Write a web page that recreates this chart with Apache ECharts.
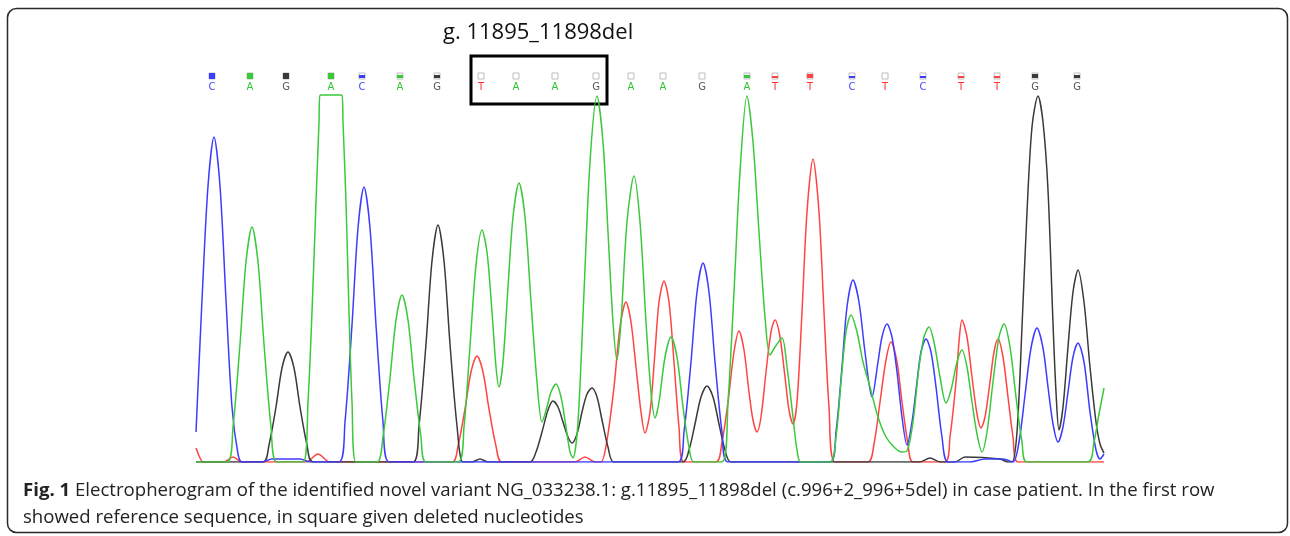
<!DOCTYPE html>
<html>
<head>
<meta charset="utf-8">
<title>Electropherogram</title>
<script src="https://cdn.jsdelivr.net/npm/echarts@6/dist/echarts.min.js"></script>
<style>
  html, body { margin: 0; padding: 0; background: #fff; }
  #chart { width: 1290px; height: 536px; }
</style>
</head>
<body>
<div id="chart"></div>
<script>
// reference sequence (first row) with scan position and quality bar fill
const bases = ["C", "A", "G", "A", "C", "A", "G", "T", "A", "A", "G", "A", "A", "G", "A", "T", "T", "C", "T", "C", "T", "T", "G", "G"];
const basePos = [212, 250, 286, 331, 362, 400, 437, 481, 516, 555, 596, 631, 663, 702, 747, 775, 810, 852, 885, 923, 961, 997, 1035, 1077];
const baseQual = [1, 1, 1, 1, 0.5, 0.5, 0.5, 0, 0, 0, 0, 0, 0, 0, 0.5, 0.4, 0.6, 0.4, 0, 0.3, 0.4, 0.4, 0.6, 0.5];
// deleted nucleotides, first and last index into bases
const deleted = [7, 10];
const variantLabel = "g. 11895_11898del";

// traces: [scan position, signal]
const traceC = [
  [196, 30], [202, 162], [208, 276], [214, 325], [220, 276], [226, 162], [232, 55], [238, 8], [242, 0],
  [262, 0], [272, 3], [300, 3], [310, 0],
  [339, 0], [345, 40], [352, 137], [358, 234], [364, 275], [370, 234], [376, 137], [383, 40], [389, 0],
  [678, 0], [684, 30], [691, 100], [697, 170], [703, 199], [709, 170], [715, 100], [722, 30], [728, 0],
  [830, 0], [836, 30], [842, 95], [847, 155], [853, 182], [859, 160], [865, 110], [872, 65], [878, 100],
  [882, 125], [887, 138], [892, 125], [897, 90], [902, 45], [907, 17], [912, 40], [917, 80], [921, 110],
  [926, 123], [931, 110], [936, 75], [942, 25], [948, 0],
  [970, 0], [985, 3], [1003, 3], [1013, 0],
  [1019, 20], [1025, 67], [1031, 114], [1037, 134], [1043, 114], [1048, 75], [1053, 38], [1058, 20],
  [1063, 35], [1068, 70], [1073, 105], [1078, 119], [1084, 100], [1090, 50], [1096, 12], [1100, 3], [1104, 8]
];
const traceA = [
  [196, 0], [227, 0], [233, 35], [240, 118], [246, 200], [252, 235], [258, 200], [264, 118], [271, 35], [277, 0],
  [303, 0], [308, 60], [312, 150], [316, 260], [319, 340], [320, 367], [331, 367], [342, 367], [343, 340],
  [346, 260], [349, 150], [352, 60], [356, 0],
  [377, 0], [383, 25], [390, 84], [396, 142], [402, 167], [408, 142], [414, 84], [421, 25], [426, 0],
  [458, 0], [464, 35], [470, 116], [476, 197], [482, 232], [487, 210], [492, 150], [496, 95], [499, 75],
  [503, 100], [508, 175], [513, 245], [519, 279], [525, 245], [531, 160], [537, 80], [542, 40], [547, 55],
  [551, 70], [556, 78], [561, 65], [566, 35], [570, 10], [573, 4], [578, 40], [584, 170], [590, 300],
  [597, 366], [603, 320], [608, 230], [613, 140], [617, 102], [621, 140], [627, 240], [634, 286], [640, 240],
  [646, 140], [651, 70], [655, 44], [659, 60], [665, 105], [671, 125], [677, 105], [683, 55], [689, 15], [694, 0],
  [722, 0], [728, 60], [734, 170], [740, 290], [747, 366], [753, 320], [759, 230], [765, 145], [770, 107],
  [775, 115], [782, 124], [787, 95], [793, 45], [797, 12], [801, 0],
  [830, 0], [836, 25], [841, 80], [846, 130], [851, 147], [857, 130], [863, 100], [870, 75], [878, 45],
  [886, 25], [895, 14], [902, 10], [907, 11], [913, 40], [919, 95], [924, 125], [929, 135], [934, 120],
  [940, 85], [946, 59], [951, 72], [957, 100], [962, 112], [967, 95], [972, 60], [977, 28], [982, 10],
  [987, 30], [993, 80], [999, 125], [1004, 138], [1010, 115], [1016, 65], [1022, 20], [1027, 0],
  [1088, 0], [1094, 20], [1099, 48], [1104, 74]
];
const traceG = [
  [196, 0], [263, 0], [269, 17], [276, 55], [282, 94], [288, 110], [294, 94], [300, 55], [307, 17], [313, 0],
  [413, 0], [419, 36], [426, 118], [432, 201], [438, 237], [444, 201], [450, 118], [457, 36], [463, 0],
  [472, 0], [480, 3], [488, 0],
  [530, 0], [536, 10], [542, 30], [548, 52], [553, 61], [558, 55], [563, 40], [568, 25], [572, 19],
  [577, 28], [582, 50], [587, 68], [592, 74], [597, 65], [602, 42], [608, 15], [614, 0],
  [683, 0], [689, 12], [695, 38], [701, 65], [707, 76], [713, 65], [719, 38], [725, 12], [731, 0],
  [920, 0], [930, 4], [940, 0], [955, 0], [965, 5], [1000, 3], [1008, 0],
  [1012, 0], [1017, 30], [1022, 135], [1027, 250], [1032, 335], [1038, 366], [1043, 340], [1048, 272],
  [1053, 139], [1056, 70], [1059, 32], [1063, 55], [1068, 115], [1073, 170], [1078, 192], [1084, 160],
  [1090, 95], [1096, 40], [1100, 18], [1104, 9]
];
const traceT = [
  [196, 14], [200, 4], [203, 0], [224, 0], [233, 5], [242, 0], [306, 0], [318, 8], [330, 0],
  [452, 0], [458, 16], [465, 53], [471, 90], [477, 106], [483, 90], [489, 53], [496, 16], [502, 0],
  [575, 0], [585, 5], [595, 0],
  [601, 0], [607, 22], [614, 75], [620, 135], [626, 160], [631, 140], [636, 95], [641, 50], [645, 29],
  [650, 50], [655, 110], [659, 160], [664, 181], [669, 160], [674, 100], [679, 35], [684, 0],
  [716, 0], [722, 20], [728, 60], [734, 110], [739, 131], [744, 112], [749, 70], [753, 42], [757, 30],
  [761, 45], [766, 90], [771, 130], [775, 142], [780, 125], [785, 85], [789, 52], [793, 38], [797, 60],
  [802, 150], [807, 250], [813, 303], [819, 250], [824, 150], [829, 55], [835, 0],
  [868, 0], [874, 18], [880, 60], [886, 102], [891, 120], [897, 100], [902, 60], [908, 18], [913, 0],
  [945, 0], [950, 25], [956, 80], [959, 120], [962, 142], [967, 125], [972, 85], [977, 48], [981, 34],
  [985, 45], [990, 80], [994, 110], [998, 123], [1003, 105], [1008, 65], [1013, 25], [1018, 0], [1104, 0]
];

const colors = { A: "#3cc83c", C: "#3c3cff", G: "#3a3a3a", T: "#ff4444" };
const letterColors = { A: "#33c433", C: "#4848ff", G: "#555555", T: "#ff3030" };
const xMin = 196;
const xMax = 1104;

const chart = echarts.init(document.getElementById("chart"), null, { renderer: "canvas" });

function traceSeries(name, data) {
  return {
    name: name,
    type: "line",
    xAxisIndex: 0,
    yAxisIndex: 0,
    data: data,
    showSymbol: false,
    symbol: "none",
    smooth: 0.3,
    clip: true,
    silent: true,
    animation: false,
    lineStyle: { color: colors[name], width: 1.5 },
  };
}

const option = {
  animation: false,
  title: {
    text: variantLabel,
    left: 443,
    top: 22,
    padding: 0,
    textStyle: { fontFamily: "Open Sans", fontSize: 22, fontWeight: "normal", color: "#111" },
  },
  grid: [
    { left: xMin, width: xMax - xMin, top: 92, height: 370 },
    { left: xMin, width: xMax - xMin, top: 70, height: 20 },
  ],
  xAxis: [
    { type: "value", min: xMin, max: xMax, show: false, gridIndex: 0 },
    { type: "value", min: xMin, max: xMax, show: false, gridIndex: 1 },
  ],
  yAxis: [
    { type: "value", min: 0, max: 370, show: false, gridIndex: 0 },
    { type: "value", min: 0, max: 1, show: false, gridIndex: 1 },
  ],
  graphic: [
    {
      type: "rect",
      shape: { x: 7.5, y: 8.5, width: 1280, height: 524, r: 9 },
      style: { fill: "none", stroke: "#2a2a2a", lineWidth: 1.5 },
      silent: true,
    },
    {
      type: "text",
      left: 23,
      top: 477,
      style: {
        text: "{b|Fig. 1} Electropherogram of the identified novel variant NG_033238.1: g.11895_11898del (c.996+2_996+5del) in case patient. In the first row\nshowed reference sequence, in square given deleted nucleotides",
        fontFamily: "Open Sans",
        fontSize: 18.6,
        lineHeight: 27,
        fill: "#222",
        rich: {
          b: { fontFamily: "Open Sans", fontSize: 18.6, fontWeight: "bold", fill: "#222", lineHeight: 27 },
        },
      },
    },
  ],
  series: [
    traceSeries("T", traceT),
    traceSeries("G", traceG),
    traceSeries("C", traceC),
    traceSeries("A", traceA),
    {
      type: "custom",
      xAxisIndex: 1,
      yAxisIndex: 1,
      clip: false,
      silent: true,
      data: bases.map((b, i) => [basePos[i], baseQual[i], i]),
      renderItem(params, api) {
        const i = api.value(2);
        const b = bases[i];
        const q = api.value(1);
        const pt = api.coord([api.value(0), 0]);
        const top = params.coordSys.y;
        const x = Math.round(pt[0]);
        const children = [
          {
            type: "rect",
            shape: { x: x - 3, y: top + 3, width: 6, height: 6 },
            style: { fill: "#fff", stroke: "#bdbdbd", lineWidth: 1 },
          },
          {
            type: "text",
            style: {
              text: b,
              x: x,
              y: top + 17,
              align: "center",
              verticalAlign: "middle",
              fontFamily: "DejaVu Sans",
              fontSize: 10,
              fill: letterColors[b],
            },
          },
        ];
        if (q > 0) {
          const h = Math.max(2, Math.round(6 * q));
          children.push({
            type: "rect",
            shape: { x: x - 3, y: top + 9 - h - (q < 1 ? 1 : 0), width: 6, height: h },
            style: { fill: colors[b] },
          });
        }
        return { type: "group", children: children };
      },
    },
    {
      // square around deleted nucleotides
      type: "custom",
      xAxisIndex: 1,
      yAxisIndex: 1,
      clip: false,
      silent: true,
      data: [[basePos[deleted[0]], basePos[deleted[1]]]],
      renderItem(params, api) {
        const a = api.coord([api.value(0), 0]);
        const b = api.coord([api.value(1), 0]);
        const top = params.coordSys.y;
        return {
          type: "rect",
          shape: { x: a[0] - 10, y: top - 14, width: b[0] - a[0] + 21, height: 48 },
          style: { fill: "none", stroke: "#000", lineWidth: 3 },
        };
      },
    },
  ],
};

chart.setOption(option);
</script>
</body>
</html>
